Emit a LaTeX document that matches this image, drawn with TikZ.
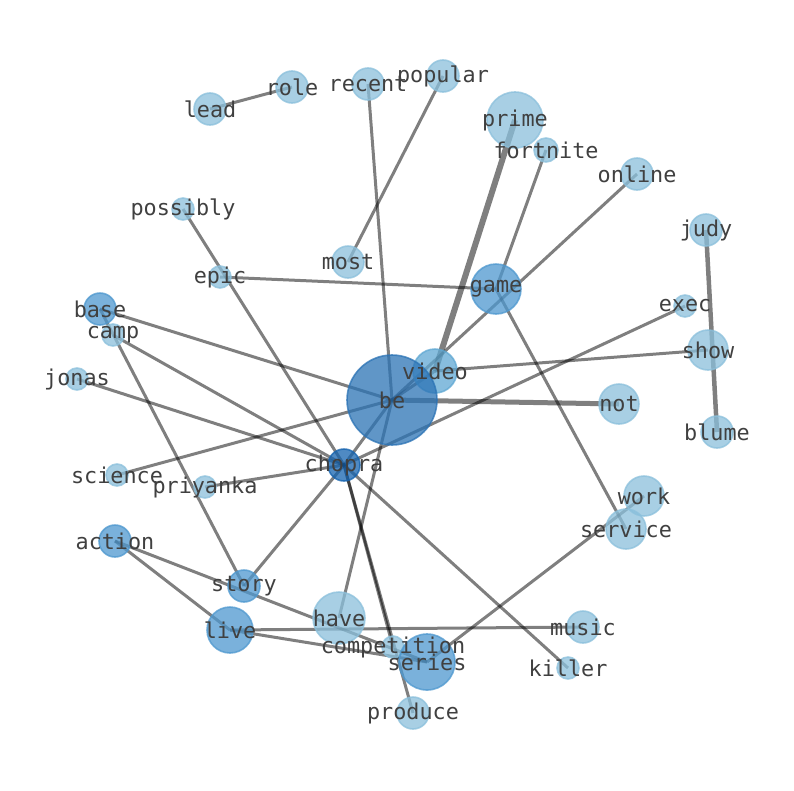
\documentclass[tikz,border=0pt]{standalone}
\usepackage{fontspec}
\newfontfamily\lblfont{DejaVu Sans Mono}
\pgfdeclarelayer{bg}
\pgfdeclarelayer{fg}
\pgfsetlayers{bg,main,fg}
\definecolor{nlight}{HTML}{8BC0DC}
\definecolor{nvid}{HTML}{5FA8D3}
\definecolor{nmed}{HTML}{4E98CF}
\definecolor{nbe}{HTML}{2B73B5}
\definecolor{nchop}{HTML}{1563AF}
\definecolor{lbltext}{HTML}{404040}
\tikzset{
  vtx/.style={circle, inner sep=0pt, minimum size=#1, opacity=0.75, line width=1.6pt},
  edgeln/.style={draw=black, opacity=0.5, line cap=butt},
  lbl/.style={inner sep=0pt, text=lbltext, font=\lblfont\fontsize{21.8}{24}\selectfont}
}
\newcommand\Nd[5]{\node[vtx=#4*2pt, fill=#5, draw=#5] (#1) at (#2,#3) {};}
\newcommand\Ed[3][3]{\draw[edgeln, line width=#1pt] (#2.center) -- (#3.center);}
\newcommand\Lb[1]{\node[lbl] (#1-t) at (#1) {#1};}
\begin{document}
\begin{tikzpicture}[x=1pt,y=-1pt]
\useasboundingbox (0,0) rectangle (794,790);
% nodes
\Nd{lead}{210}{109}{16}{nlight}
\Nd{role}{292}{87}{16}{nlight}
\Nd{recent}{368}{84}{16}{nlight}
\Nd{popular}{443}{76}{16}{nlight}
\Nd{prime}{515}{120}{28}{nlight}
\Nd{fortnite}{546}{150}{12}{nlight}
\Nd{online}{637}{174}{16}{nlight}
\Nd{judy}{706}{230}{16}{nlight}
\Nd{possibly}{183}{209}{11}{nlight}
\Nd{most}{348}{262}{16}{nlight}
\Nd{epic}{220}{277}{11}{nlight}
\Nd{game}{496}{289}{25}{nmed}
\Nd{exec}{685}{306}{11}{nlight}
\Nd{base}{100}{309}{16}{nmed}
\Nd{camp}{113}{335}{11}{nlight}
\Nd{show}{708}{350}{20}{nlight}
\Nd{video}{435}{371}{22}{nvid}
\Nd{jonas}{77}{379}{11}{nlight}
\Nd{be}{392}{400}{45}{nbe}
\Nd{not}{619}{404}{20}{nlight}
\Nd{blume}{717}{432}{16}{nlight}
\Nd{chopra}{344}{465}{16}{nchop}
\Nd{science}{117}{475}{11}{nlight}
\Nd{priyanka}{205}{487}{11}{nlight}
\Nd{work}{644}{496}{20}{nlight}
\Nd{service}{626}{529}{20}{nlight}
\Nd{action}{115}{541}{16}{nmed}
\Nd{story}{244}{586}{16}{nmed}
\Nd{have}{339}{618}{26}{nlight}
\Nd{live}{230}{630}{23}{nmed}
\Nd{music}{583}{627}{16}{nlight}
\Nd{competition}{393}{647}{11}{nlight}
\Nd{series}{427}{662}{28}{nmed}
\Nd{killer}{568}{668}{11}{nlight}
\Nd{produce}{413}{713}{16}{nlight}
% edges
\begin{pgfonlayer}{bg}
\fill[white] (0,0) rectangle (794,790);
\Ed{lead}{role}
\Ed{recent}{be}
\Ed{popular}{most}
\Ed[6]{prime}{video}
\Ed{fortnite}{game}
\Ed{online}{be}
\Ed{epic}{game}
\Ed{game}{service}
\Ed{possibly}{chopra}
\Ed{exec}{chopra}
\Ed{show}{video}
\Ed[4.5]{judy}{blume}
\Ed[5]{be}{not}
\Ed{video}{be}
\Ed{base}{be}
\Ed{base}{story}
\Ed{camp}{chopra}
\Ed{jonas}{chopra}
\Ed{science}{be}
\Ed{priyanka}{chopra}
\Ed{be}{chopra}
\Ed{action}{live}
\Ed{action}{series}
\Ed{live}{series}
\Ed{live}{music}
\Ed{story}{chopra}
\Ed{have}{be}
\Ed{chopra}{competition}
\Ed{chopra}{produce}
\Ed{chopra}{killer}
\Ed{work}{series}
\end{pgfonlayer}
% labels
\begin{pgfonlayer}{fg}
\Lb{lead}\Lb{role}\Lb{recent}\Lb{popular}\Lb{prime}\Lb{fortnite}
\Lb{online}\Lb{judy}\Lb{possibly}\Lb{most}\Lb{epic}\Lb{game}
\Lb{exec}\Lb{base}\Lb{camp}\Lb{show}\Lb{video}\Lb{jonas}
\Lb{be}\Lb{not}\Lb{blume}\Lb{chopra}\Lb{science}\Lb{priyanka}
\Lb{work}\Lb{service}\Lb{action}\Lb{story}\Lb{have}\Lb{live}
\Lb{music}\Lb{competition}\Lb{series}\Lb{killer}\Lb{produce}
\end{pgfonlayer}
\end{tikzpicture}
\end{document}
